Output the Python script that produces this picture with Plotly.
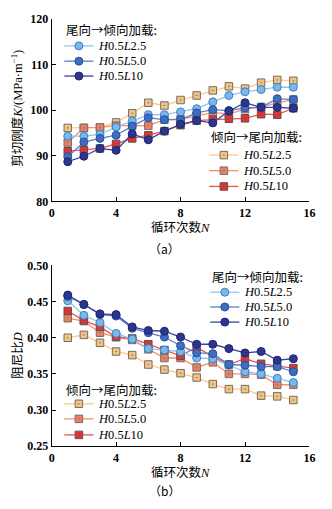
import plotly.graph_objects as go

# ---------------- data ----------------
N = list(range(1, 16))

# (a) shear stiffness K (MPa/m)
K_fwd_L2_5 = [94.3, 94.3, 94.7, 96.3, 97.6, 99.0, 99.0, 99.6, 100.3, 101.8, 103.2, 104.0, 104.5, 105.0, 105.0]
K_fwd_L5_0 = [89.8, 93.0, 93.8, 94.5, 96.5, 98.3, 97.9, 97.9, 99.4, 100.1, 99.9, 100.5, 100.6, 102.5, 102.3]
K_fwd_L10 = [88.7, 89.9, 91.6, 91.2, 94.8, 93.5, 95.4, 96.9, 97.7, 97.2, 99.8, 101.6, 100.6, 100.6, 100.4]
K_rev_L2_5 = [96.1, 96.1, 96.2, 97.3, 99.3, 101.6, 101.0, 102.2, 103.2, 104.3, 105.2, 104.7, 106.0, 106.6, 106.4]
K_rev_L5_0 = [92.9, 96.1, 96.2, 96.6, 96.6, 96.6, 97.9, 98.0, 98.7, 99.5, 99.1, 100.2, 100.7, 101.6, 102.3]
K_rev_L10 = [91.0, 91.3, 91.6, 92.6, 93.8, 94.5, 95.4, 96.7, 97.7, 97.9, 98.1, 98.2, 99.1, 99.0, 100.4]

# (b) damping ratio D
D_fwd_L2_5 = [0.451, 0.431, 0.421, 0.406, 0.398, 0.385, 0.383, 0.381, 0.372, 0.371, 0.362, 0.353, 0.350, 0.344, 0.338]
D_fwd_L5_0 = [0.457, 0.446, 0.432, 0.430, 0.413, 0.407, 0.401, 0.389, 0.379, 0.378, 0.363, 0.362, 0.360, 0.360, 0.353]
D_fwd_L10 = [0.459, 0.446, 0.433, 0.432, 0.415, 0.410, 0.409, 0.401, 0.391, 0.391, 0.385, 0.379, 0.381, 0.369, 0.371]
D_rev_L2_5 = [0.400, 0.404, 0.393, 0.381, 0.376, 0.363, 0.356, 0.351, 0.345, 0.336, 0.329, 0.329, 0.320, 0.319, 0.314]
D_rev_L5_0 = [0.427, 0.423, 0.407, 0.401, 0.397, 0.384, 0.372, 0.372, 0.359, 0.366, 0.350, 0.350, 0.349, 0.335, 0.335]
D_rev_L10 = [0.437, 0.424, 0.415, 0.401, 0.399, 0.391, 0.383, 0.375, 0.387, 0.374, 0.363, 0.371, 0.364, 0.361, 0.358]

LABELS = ["<i>H</i>0.5<i>L</i>2.5", "<i>H</i>0.5<i>L</i>5.0", "<i>H</i>0.5<i>L</i>10"]
HDR_FWD = "尾向→倾向加载:"
HDR_REV = "倾向→尾向加载:"
XTICKS = [0, 4, 8, 12, 16]

# ---------------- styles ----------------
FWD_STY = [  # symbol, fill, border, line
    ("circle", "#79b8e8", "#3f7fc2", "#8fc6ee"),
    ("circle", "#3e6ec2", "#2a4f9c", "#5880cc"),
    ("circle", "#2e358c", "#1d2470", "#3e429c"),
]
REV_STY = [
    ("square-dot", "#f7c27c", "#6e6e6e", "#f8ca8c"),
    ("square-dot", "#f27e5c", "#707070", "#f5906f"),
    ("square-dot", "#e8302e", "#555555", "#ea5252"),
]

W, H = 332, 509
PX0, PX1 = 50, 315
A_TOP, A_BOT = 12, 200
B_TOP, B_BOT = 265.7, 451.7
TICKFONT = dict(family="Liberation Serif", size=12, color="black", weight="bold")
CJK = "Noto Sans CJK SC"


def ydom(top, bot):
    return [1 - bot / H, 1 - top / H]


fig = go.Figure()


def add_series(xa, ya, ys, sty):
    sym, fill, border, line = sty
    fig.add_trace(go.Scatter(
        x=N, y=ys, mode="lines+markers", xaxis=xa, yaxis=ya, showlegend=False,
        line=dict(color=line, width=1.3),
        marker=dict(symbol=sym, size=8 if sym == "circle" else 7.5, color=fill,
                    line=dict(color=border, width=1)),
    ))


for ys, st in zip([K_rev_L2_5, K_rev_L5_0, K_rev_L10], REV_STY):
    add_series("x", "y", ys, st)
for ys, st in zip([K_fwd_L2_5, K_fwd_L5_0, K_fwd_L10], FWD_STY):
    add_series("x", "y", ys, st)
for ys, st in zip([D_rev_L2_5, D_rev_L5_0, D_rev_L10], REV_STY):
    add_series("x2", "y2", ys, st)
for ys, st in zip([D_fwd_L2_5, D_fwd_L5_0, D_fwd_L10], FWD_STY):
    add_series("x2", "y2", ys, st)

annotations = []


def add_legend(x, hdr_y, entry_ys, header, styles):
    annotations.append(dict(x=x, y=hdr_y, xref="x3", yref="y3", text=header, showarrow=False,
                            xanchor="left", yanchor="middle",
                            font=dict(family=CJK, size=12.5, color="black")))
    for yy, sty, lab in zip(entry_ys, styles, LABELS):
        sym, fill, border, line = sty
        fig.add_trace(go.Scatter(x=[x, x + 30], y=[yy, yy], mode="lines", xaxis="x3", yaxis="y3",
                                 showlegend=False, hoverinfo="skip", line=dict(color=line, width=1.3)))
        fig.add_trace(go.Scatter(x=[x + 15], y=[yy], mode="markers", xaxis="x3", yaxis="y3",
                                 showlegend=False, hoverinfo="skip",
                                 marker=dict(symbol=sym, size=8 if sym == "circle" else 7.5, color=fill,
                                             line=dict(color=border, width=1))))
        annotations.append(dict(x=x + 33, y=yy, xref="x3", yref="y3", text=lab, showarrow=False,
                                xanchor="left", yanchor="middle",
                                font=dict(family="Liberation Serif", size=12.5, color="black")))


add_legend(63, 23, [40, 55.7, 71], HDR_FWD, FWD_STY)
add_legend(212, 133, [152.3, 168.3, 184.5], HDR_REV, REV_STY)
add_legend(213, 277, [293.3, 308.5, 324], HDR_FWD, FWD_STY)
add_legend(63, 393, [408, 423.5, 440], HDR_REV, REV_STY)


def txt(x, y, s, size=12.5, angle=0, family=CJK):
    annotations.append(dict(x=x, y=y, xref="x3", yref="y3", text=s, showarrow=False,
                            xanchor="center", yanchor="middle", textangle=angle,
                            font=dict(family=family, size=size, color="black")))


XT = "循环次数<i><span style='font-family:Liberation Serif'>N</span></i>"
txt(182.5, 226, XT)
txt(182.5, 478, XT)
txt(166, 248, "（a）", size=12)
txt(166, 497, "（b）", size=12)
txt(14, 104, "剪切刚度<i><span style='font-family:Liberation Serif'>K</span></i>"
             "<span style='font-family:Liberation Serif'>/(MPa·m<sup>−1</sup>)</span>", angle=-90)
txt(14, 358, "阻尼比<i><span style='font-family:Liberation Serif'>D</span></i>", angle=-90)

xcommon = dict(range=[0, 16], tickvals=XTICKS, ticks="inside", ticklen=4, tickcolor="black",
               showline=True, linecolor="black", linewidth=1, showgrid=False, zeroline=False,
               tickfont=TICKFONT, domain=[PX0 / W, PX1 / W], fixedrange=True)
ycommon = dict(ticks="inside", ticklen=4, tickcolor="black", showline=True, linecolor="black",
               linewidth=1, showgrid=False, zeroline=False, tickfont=TICKFONT, fixedrange=True)

fig.update_layout(
    width=W, height=H, margin=dict(l=0, r=0, t=0, b=0),
    paper_bgcolor="white", plot_bgcolor="rgba(0,0,0,0)",
    showlegend=False,
    xaxis=dict(**xcommon, anchor="y"),
    yaxis=dict(**ycommon, range=[80, 120], tickvals=[80, 90, 100, 110, 120], anchor="x",
               domain=ydom(A_TOP, A_BOT)),
    xaxis2=dict(**xcommon, anchor="y2"),
    yaxis2=dict(**ycommon, range=[0.25, 0.50], tickvals=[0.25, 0.30, 0.35, 0.40, 0.45, 0.50],
                tickformat=".2f", anchor="x2", domain=ydom(B_TOP, B_BOT)),
    xaxis3=dict(range=[0, W], domain=[0, 1], visible=False, anchor="y3", fixedrange=True),
    yaxis3=dict(range=[H, 0], domain=[0, 1], visible=False, anchor="x3", fixedrange=True),
    annotations=annotations,
)

fig.write_html("out.html")
